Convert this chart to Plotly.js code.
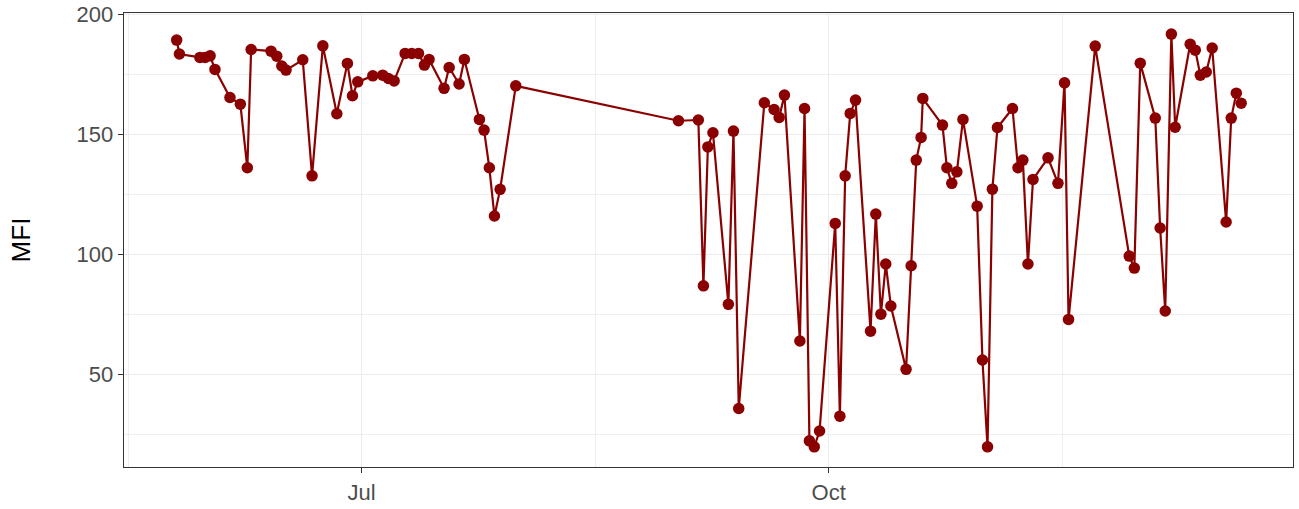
<!DOCTYPE html>
<html>
<head>
<meta charset="utf-8">
<script src="https://cdn.plot.ly/plotly-3.0.1.min.js"></script>
<style>html,body{margin:0;padding:0;background:#fff;}#chart{width:1299px;height:509px;}</style>
</head>
<body>
<div id="chart"></div>
<script>
const dates = [
  "2019-05-25 14:00","2019-05-26 03:00","2019-05-30 04:00","2019-05-31 04:00","2019-06-01 04:00",
  "2019-06-02 03:00","2019-06-05 02:00","2019-06-07 03:00","2019-06-08 12:00","2019-06-09 06:00",
  "2019-06-13 04:00","2019-06-14 07:00","2019-06-15 07:00","2019-06-16 03:00","2019-06-19 10:00",
  "2019-06-21 06:00","2019-06-23 09:00","2019-06-26 03:00","2019-06-28 05:00","2019-06-29 05:00",
  "2019-06-30 06:00","2019-07-03 05:00","2019-07-05 04:00","2019-07-06 07:00","2019-07-07 10:00",
  "2019-07-09 14:00","2019-07-10 21:00","2019-07-12 05:00","2019-07-13 09:00","2019-07-14 07:00",
  "2019-07-17 06:00","2019-07-18 06:00","2019-07-20 05:00","2019-07-21 06:00","2019-07-24 05:00",
  "2019-07-25 03:00","2019-07-26 04:00","2019-07-27 04:00","2019-07-28 07:00","2019-07-31 09:00",
  "2019-09-01 10:00","2019-09-05 08:00","2019-09-06 08:00","2019-09-07 05:00","2019-09-08 05:00",
  "2019-09-11 06:00","2019-09-12 06:00","2019-09-13 07:00","2019-09-18 08:00","2019-09-20 06:00",
  "2019-09-21 06:00","2019-09-22 07:00","2019-09-25 08:00","2019-09-26 06:00","2019-09-27 05:00",
  "2019-09-28 04:00","2019-09-29 05:00","2019-10-02 07:00","2019-10-03 05:00","2019-10-04 06:00",
  "2019-10-05 06:00","2019-10-06 07:00","2019-10-09 06:00","2019-10-10 07:00","2019-10-11 07:00",
  "2019-10-12 06:00","2019-10-13 06:00","2019-10-16 06:00","2019-10-17 06:00","2019-10-18 06:00",
  "2019-10-19 05:00","2019-10-19 13:00","2019-10-23 10:00","2019-10-24 07:00","2019-10-25 06:00",
  "2019-10-26 06:00","2019-10-27 11:00","2019-10-30 06:00","2019-10-31 07:00","2019-11-01 07:00",
  "2019-11-02 06:00","2019-11-03 06:00","2019-11-06 05:00","2019-11-07 07:00","2019-11-08 06:00",
  "2019-11-09 06:00","2019-11-10 06:00","2019-11-13 05:00","2019-11-15 04:00","2019-11-16 11:00",
  "2019-11-17 06:00","2019-11-22 12:00","2019-11-29 05:00","2019-11-30 05:00","2019-12-01 09:00",
  "2019-12-04 08:00","2019-12-05 07:00","2019-12-06 07:00","2019-12-07 12:00","2019-12-08 06:00",
  "2019-12-11 05:00","2019-12-12 05:00","2019-12-13 05:00","2019-12-14 09:00","2019-12-15 13:00",
  "2019-12-18 07:00","2019-12-19 07:00","2019-12-20 07:00","2019-12-21 06:00"
];
const mfi = [
  189.3,183.5,182.1,182.1,182.75,
  177.1,165.4,162.6,136.1,185.4,
  184.7,182.6,178.5,176.8,181.1,
  132.75,186.9,158.6,179.6,166.1,
  171.9,174.4,174.7,173.3,172.3,
  183.75,183.75,183.75,178.9,181.25,
  169.2,177.9,171.0,181.25,156.25,
  151.8,136.1,116.0,127.1,170.25,
  155.7,156.0,86.9,144.8,150.7,
  79.2,151.4,35.8,163.2,160.4,
  157.1,166.4,63.9,160.8,22.3,
  19.8,26.4,112.9,32.6,132.75,
  158.75,164.3,68.0,116.8,75.1,
  96.0,78.5,52.1,95.25,139.3,
  148.75,165.0,153.9,136.1,129.6,
  134.4,156.25,120.1,56.0,19.8,
  127.2,152.9,160.8,136.1,139.3,
  96.0,131.25,140.25,129.6,171.5,
  72.9,186.8,99.3,94.3,179.7,
  156.8,111.0,76.4,191.8,153.0,
  187.6,185.1,174.7,176.0,186.0,
  113.5,156.8,167.2,163.0
];
const xTickVals = ["2019-07-01","2019-10-01"];
const xTickText = ["Jul","Oct"];
const yTickVals = [50,100,150,200];
const yTickText = ["50","100","150","200"];
const yTitle = "MFI";

const trace = {
  x: dates, y: mfi, type: "scatter", mode: "lines+markers",
  line: {color: "#8B0000", width: 2.2},
  marker: {color: "#8B0000", size: 11.5},
  hoverinfo: "x+y"
};
const axisCommon = {
  showline: true, mirror: true, linecolor: "#333333", linewidth: 1.4,
  ticks: "outside", ticklen: 5, tickcolor: "#333333", tickwidth: 1.4,
  showgrid: true, gridcolor: "#EBEBEB", gridwidth: 1.5,
  zeroline: false,
  tickfont: {family: "Liberation Sans, Arial, sans-serif", size: 22, color: "#4D4D4D"}
};
const layout = {
  width: 1299, height: 509,
  margin: {l: 124, r: 6, t: 13, b: 42},
  paper_bgcolor: "#ffffff", plot_bgcolor: "#ffffff",
  showlegend: false,
  xaxis: Object.assign({}, axisCommon, {
    type: "date",
    range: ["2019-05-15 05:00", "2019-12-31 11:00"],
    tickmode: "array", tickvals: xTickVals, ticktext: xTickText,
    minor: {tickmode: "array", tickvals: ["2019-05-16","2019-08-16","2019-11-16"], showgrid: true, gridcolor: "#EBEBEB", gridwidth: 0.8, ticks: ""}
  }),
  yaxis: Object.assign({}, axisCommon, {
    range: [11.4, 200.6],
    tickmode: "array", tickvals: yTickVals, ticktext: yTickText,
    minor: {tickmode: "array", tickvals: [25,75,125,175], showgrid: true, gridcolor: "#EBEBEB", gridwidth: 0.8, ticks: ""},
    title: {text: yTitle, standoff: 38, font: {family: "Liberation Sans, Arial, sans-serif", size: 26, color: "#000000"}}
  })
};
Plotly.newPlot("chart", [trace], layout, {displayModeBar: false, staticPlot: true});
</script>
</body>
</html>
